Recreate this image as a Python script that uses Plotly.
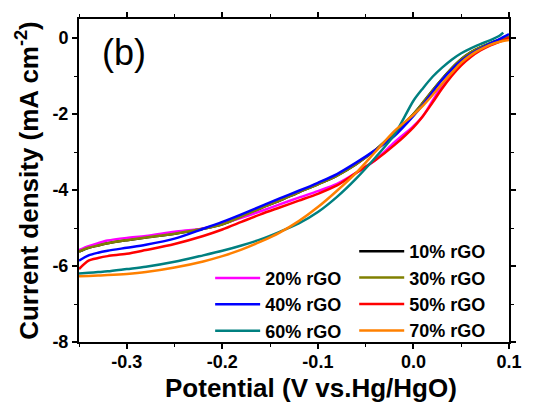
import plotly.graph_objects as go

# ---- data ----
potential = [-0.35, -0.34, -0.33, -0.32, -0.30, -0.28, -0.25, -0.22, -0.20, -0.18,
             -0.16, -0.14, -0.12, -0.10, -0.08, -0.06, -0.04, -0.02, 0.0, 0.01,
             0.02, 0.03, 0.04, 0.05, 0.06, 0.07, 0.08, 0.09, 0.10]
potential_60 = [-0.35, -0.34, -0.33, -0.32, -0.30, -0.28, -0.25, -0.22, -0.20, -0.18,
                -0.16, -0.14, -0.12, -0.10, -0.08, -0.06, -0.04, -0.02, 0.0, 0.01,
                0.02, 0.03, 0.04, 0.05, 0.06, 0.07, 0.08, 0.09, 0.094]

rgo_10 = [-5.62, -5.52, -5.46, -5.40, -5.32, -5.25, -5.15, -5.02, -4.90, -4.70,
          -4.48, -4.28, -4.06, -3.85, -3.62, -3.32, -2.95, -2.50, -2.00, -1.70,
          -1.38, -1.08, -0.80, -0.56, -0.38, -0.25, -0.14, -0.05, 0.03]
rgo_20 = [-5.58, -5.48, -5.40, -5.33, -5.26, -5.21, -5.10, -5.01, -4.88, -4.73,
          -4.56, -4.38, -4.20, -4.03, -3.84, -3.55, -3.22, -2.75, -2.32, -2.05,
          -1.65, -1.25, -0.92, -0.65, -0.45, -0.30, -0.18, -0.08, 0.02]
rgo_30 = [-5.62, -5.52, -5.46, -5.40, -5.32, -5.25, -5.15, -5.02, -4.90, -4.70,
          -4.48, -4.28, -4.06, -3.85, -3.62, -3.32, -2.95, -2.50, -2.00, -1.70,
          -1.38, -1.08, -0.80, -0.56, -0.38, -0.25, -0.14, -0.05, 0.03]
rgo_40 = [-5.86, -5.72, -5.65, -5.60, -5.52, -5.44, -5.28, -5.02, -4.84, -4.64,
          -4.43, -4.22, -4.02, -3.81, -3.58, -3.28, -2.95, -2.58, -2.05, -1.75,
          -1.42, -1.10, -0.83, -0.60, -0.42, -0.28, -0.15, -0.03, 0.10]
rgo_50 = [-6.08, -5.86, -5.79, -5.74, -5.68, -5.58, -5.42, -5.21, -5.04, -4.84,
          -4.64, -4.46, -4.28, -4.10, -3.88, -3.55, -3.22, -2.82, -2.35, -2.05,
          -1.70, -1.33, -1.00, -0.72, -0.50, -0.33, -0.20, -0.10, 0.0]
rgo_60 = [-6.20, -6.18, -6.16, -6.14, -6.08, -6.02, -5.89, -5.72, -5.60, -5.46,
          -5.30, -5.10, -4.88, -4.58, -4.18, -3.70, -3.15, -2.55, -1.65, -1.32,
          -1.02, -0.78, -0.57, -0.40, -0.27, -0.16, -0.06, 0.06, 0.14]
rgo_70 = [-6.27, -6.26, -6.25, -6.24, -6.21, -6.16, -6.04, -5.88, -5.74, -5.57,
          -5.36, -5.12, -4.82, -4.45, -4.02, -3.55, -3.00, -2.45, -2.02, -1.78,
          -1.50, -1.20, -0.92, -0.65, -0.45, -0.30, -0.18, -0.10, -0.05]

series_names = ["10% rGO", "20% rGO", "30% rGO", "40% rGO", "50% rGO", "60% rGO", "70% rGO"]
series_colors = ["#000000", "#FF00FF", "#808000", "#0000FF", "#FF0000", "#008080", "#FF8000"]

x_tickvals = [-0.3, -0.2, -0.1, 0.0, 0.1]
x_ticktext = ["-0.3", "-0.2", "-0.1", "0.0", "0.1"]
y_tickvals = [-8, -6, -4, -2, 0]
y_ticktext = ["-8", "-6", "-4", "-2", "0"]

x_title = "Potential (V vs.Hg/HgO)"
y_title = "Current density (mA cm<sup>-2</sup>)"
panel_label = "(b)"

# ---- figure ----
FONT = "Arial, 'Liberation Sans', sans-serif"
fig = go.Figure()

series = [
    (potential, rgo_10, "legend2"),
    (potential, rgo_20, "legend"),
    (potential, rgo_30, "legend2"),
    (potential, rgo_40, "legend"),
    (potential, rgo_50, "legend2"),
    (potential_60, rgo_60, "legend"),
    (potential, rgo_70, "legend2"),
]
for (xs, ys, lg), name, color in zip(series, series_names, series_colors):
    fig.add_trace(go.Scatter(
        x=xs, y=ys, mode="lines", name=name, legend=lg,
        line=dict(color=color, width=2.5, shape="spline", smoothing=0.8),
    ))

axis_common = dict(
    showline=True, linecolor="black", linewidth=2, mirror="ticks",
    ticks="outside", ticklen=5, tickwidth=1.5, tickcolor="black",
    showgrid=False, zeroline=False,
    tickfont=dict(family=FONT, size=18, color="black", weight="bold"),
)

fig.update_xaxes(
    range=[-0.35, 0.1], tickmode="array", tickvals=x_tickvals, ticktext=x_ticktext,
    ticklabelstandoff=-3,
    minor=dict(dtick=0.05, tick0=0, ticks="outside", ticklen=3, tickwidth=1.2, tickcolor="black"),
    **axis_common,
)
fig.update_yaxes(
    range=[-8, 0.5], tickmode="array", tickvals=y_tickvals, ticktext=y_ticktext,
    minor=dict(dtick=1, tick0=0, ticks="outside", ticklen=3, tickwidth=1.2, tickcolor="black"),
    title=dict(text=y_title, standoff=6,
               font=dict(family=FONT, size=26, color="black", weight="bold")),
    **axis_common,
)

legend_font = dict(family=FONT, size=18, color="black", weight="bold")
fig.update_layout(
    width=534, height=402,
    margin=dict(l=79, r=25, t=16, b=60),
    paper_bgcolor="white", plot_bgcolor="white",
    showlegend=True,
    legend=dict(x=0.305, y=0.2546, xanchor="left", yanchor="top",
                bgcolor="rgba(0,0,0,0)", borderwidth=0, font=legend_font,
                itemwidth=45, tracegroupgap=0),
    legend2=dict(x=0.64, y=0.3375, xanchor="left", yanchor="top",
                 bgcolor="rgba(0,0,0,0)", borderwidth=0, font=legend_font,
                 itemwidth=45, tracegroupgap=0),
    annotations=[
        dict(text=panel_label, x=0.105, y=0.896, xref="paper", yref="paper",
             xanchor="center", yanchor="middle",
             showarrow=False, font=dict(family=FONT, size=36, color="black")),
        dict(text=x_title, x=0.54, y=-0.141, xref="paper", yref="paper",
             xanchor="center", yanchor="middle",
             showarrow=False, font=dict(family=FONT, size=26, color="black", weight="bold")),
    ],
)

fig.write_html("out.html")
